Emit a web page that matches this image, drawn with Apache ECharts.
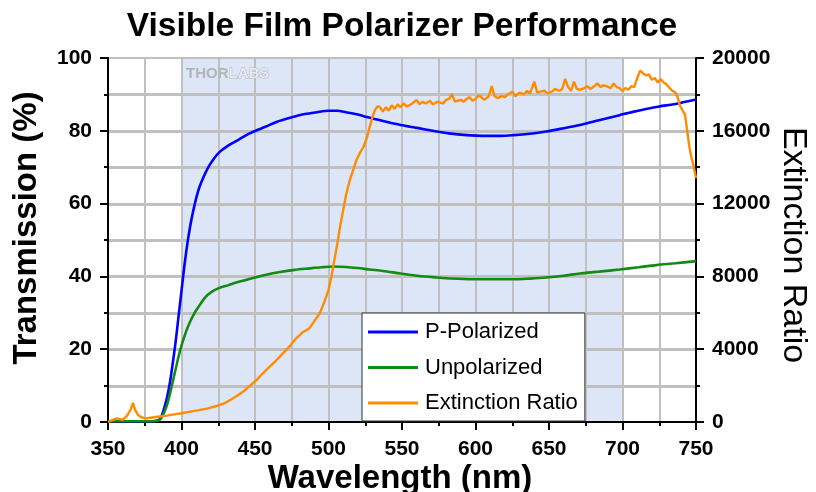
<!DOCTYPE html>
<html>
<head>
<meta charset="utf-8">
<title>Visible Film Polarizer Performance</title>
<script src="https://cdn.jsdelivr.net/npm/echarts@6/dist/echarts.min.js"></script>
<style>
  html, body { margin: 0; padding: 0; background: #fff; }
  #chart { width: 816px; height: 492px; }
</style>
</head>
<body>
<div id="chart"></div>
<script>
// P-polarized transmission (%)
const wavelengthP = [350, 365, 380, 384, 386, 388, 390, 392, 394, 396, 398, 400, 402, 404, 406, 408, 410, 412, 415, 418, 422, 426, 432, 439, 446, 452, 457, 465, 475, 484, 492, 500, 506, 512, 520, 526, 532, 540, 549, 560, 571, 582, 594, 605, 617, 626, 637, 648, 660, 671, 684, 698, 707, 716, 725, 735, 742, 750];
const pPolarized = [0.2, 0.2, 0.2, 0.4, 1.2, 3.5, 6.5, 10.5, 16, 22, 29, 36, 43, 49, 54, 58, 61.5, 64.3, 67.3, 69.8, 72.3, 74.2, 76, 77.6, 79.2, 80.3, 81.1, 82.5, 83.7, 84.6, 85.1, 85.5, 85.5, 85.1, 84.5, 83.8, 83.2, 82.4, 81.6, 80.8, 80, 79.3, 78.8, 78.6, 78.6, 78.8, 79.2, 79.8, 80.7, 81.6, 82.9, 84.3, 85.2, 86, 86.7, 87.3, 87.9, 88.6];

// Unpolarized transmission (%)
const wavelengthU = [350, 365, 380, 384, 386, 388, 390, 392, 394, 396, 398, 400, 402, 404, 406, 408, 410, 413, 416, 420, 425, 432, 439, 448, 457, 467, 477, 487, 495, 503, 512, 520, 528, 537, 549, 562, 571, 580, 592, 603, 615, 626, 637, 648, 660, 671, 684, 698, 711, 723, 736, 750];
const unpolarized = [0.2, 0.2, 0.2, 0.4, 1, 2.5, 4.5, 7.5, 11, 14.5, 18, 21, 23.5, 25.8, 27.7, 29.3, 30.7, 32.5, 34.2, 35.6, 36.7, 37.6, 38.5, 39.5, 40.4, 41.2, 41.8, 42.2, 42.5, 42.7, 42.6, 42.3, 41.9, 41.5, 40.8, 40.1, 39.8, 39.5, 39.3, 39.2, 39.2, 39.2, 39.4, 39.7, 40.2, 40.8, 41.3, 41.9, 42.5, 43.1, 43.6, 44.2];

// Extinction ratio (right axis)
const wavelengthER = [350, 353, 356, 360, 363, 365.5, 367, 368.5, 370.5, 373, 376, 380, 385, 390, 395, 400, 406, 412, 418, 424, 429, 433, 437, 442, 446, 451, 455, 460, 464, 469, 474, 478, 482, 487, 490, 494, 497, 500, 502, 504, 506, 508, 510, 512, 514.5, 517, 519, 521.5, 524, 526, 528, 530, 532, 533.5, 535, 537, 539, 541, 543, 545, 547, 549, 551, 553, 555, 557, 560, 562, 564, 566, 569, 571, 574, 576, 578, 580, 582, 584, 586, 588, 590, 592, 594, 596, 598, 600, 602, 604, 606, 609, 611, 613, 615, 618, 620, 622, 625, 627, 630, 633, 635, 637, 640, 642, 644, 647, 649, 652, 654, 657, 659, 661, 663, 665, 667, 669, 671, 674, 676, 678, 680, 683, 685, 687, 689, 692, 694, 696, 698, 700, 702, 704, 706, 708, 710, 712, 714, 716, 718, 720, 722, 724, 726, 728, 730, 732, 734, 736, 737.5, 739, 741, 742.5, 744, 745.5, 747, 748, 749, 750];
const extinctionRatio = [0, 100, 200, 120, 350, 700, 1050, 650, 380, 250, 200, 250, 300, 350, 420, 480, 570, 650, 750, 880, 1020, 1200, 1400, 1670, 1950, 2300, 2650, 3040, 3350, 3770, 4200, 4600, 4900, 5150, 5500, 5970, 6550, 7250, 8000, 8900, 9800, 10800, 11650, 12500, 13300, 13900, 14400, 14800, 15150, 15600, 16200, 16800, 17200, 17350, 17300, 17050, 17300, 17100, 17400, 17200, 17450, 17300, 17500, 17350, 17400, 17500, 17700, 17450, 17600, 17500, 17650, 17450, 17600, 17550, 17500, 17700, 17750, 18020, 17600, 17650, 17700, 17600, 17750, 17850, 17650, 17750, 17950, 17850, 17700, 17900, 18450, 17900, 17800, 17900, 17850, 18000, 18150, 17900, 18100, 18000, 18200, 18050, 18700, 18100, 18150, 18200, 18050, 18150, 18300, 18200, 18300, 18850, 18400, 18200, 18700, 18300, 18250, 18350, 18450, 18300, 18400, 18600, 18400, 18500, 18450, 18350, 18600, 18400, 18350, 18200, 18350, 18250, 18450, 18400, 18900, 19300, 19150, 19050, 19100, 18800, 18900, 18650, 18850, 18650, 18550, 18350, 18200, 18100, 17850, 17400, 17100, 16900, 16000, 15100, 14500, 14200, 13800, 13400];

// Visible band highlighted behind the curves
const visibleBand = [400, 700];
// Horizontal grid levels on the transmission axis (%)
const transmissionGrid = [10, 20, 30, 40, 50, 60, 70, 80, 90];

const FONT = "'Liberation Sans', Arial, sans-serif";
const GRID_COLOR = '#c0c0c0';
const pairs = (xs, ys) => xs.map((x, i) => [x, ys[i]]);

const gridLine = () => ({ show: true, lineStyle: { color: GRID_COLOR, width: 2, type: 'solid' } });
const axisLine = () => ({ show: true, lineStyle: { color: '#000', width: 2 } });
const majorTick = () => ({ show: true, inside: false, length: 8, lineStyle: { color: '#000', width: 2 } });
const minorTick = () => ({ show: true, splitNumber: 2, length: 4, lineStyle: { color: '#000', width: 2 } });
const tickLabel = (margin) => ({ show: true, margin, color: '#000', fontFamily: FONT, fontWeight: 'bold', fontSize: 21, formatter: v => String(v) });

const chart = echarts.init(document.getElementById('chart'), null, { renderer: 'canvas' });

chart.setOption({
  animation: false,
  backgroundColor: '#fff',
  grid: {
    left: 108, right: 120, top: 58, bottom: 70,
    show: true, borderColor: '#000', borderWidth: 2, backgroundColor: 'transparent'
  },
  graphic: [
    {
      type: 'text', x: 402, y: 27,
      style: { text: 'Visible Film Polarizer Performance', font: 'bold 33.5px ' + FONT, fill: '#000', textAlign: 'center', textVerticalAlign: 'middle' }
    },
    {
      type: 'text', x: 27, y: 228, rotation: Math.PI / 2,
      style: { text: 'Transmission (%)', font: 'bold 33px ' + FONT, fill: '#000', textAlign: 'center', textVerticalAlign: 'middle' }
    },
    {
      type: 'text', x: 793, y: 245, rotation: -Math.PI / 2,
      style: { text: 'Extinction Ratio', font: '34px ' + FONT, fill: '#000', textAlign: 'center', textVerticalAlign: 'middle' }
    },
    {
      type: 'text', x: 400, y: 479,
      style: { text: 'Wavelength (nm)', font: 'bold 33px ' + FONT, fill: '#000', textAlign: 'center', textVerticalAlign: 'middle' }
    },
    {
      type: 'text', x: 186, y: 74, z: 5,
      style: {
        text: '{a|THOR}{b|LABS}',
        textVerticalAlign: 'middle',
        rich: {
          a: { font: 'bold 15px ' + FONT, fill: '#b4b4b4' },
          b: { font: 'bold 15px ' + FONT, fill: '#e6ebf5', stroke: '#b4b4b4', lineWidth: 1 }
        }
      }
    }
  ],
  legend: {
    data: ['P-Polarized', 'Unpolarized', 'Extinction Ratio'],
    orient: 'vertical',
    left: 362, top: 313,
    padding: [8, 7, 7, 6],
    itemGap: 13.5,
    itemWidth: 50,
    itemHeight: 3,
    icon: 'rect',
    backgroundColor: '#fff',
    borderColor: '#333',
    borderWidth: 1,
    textStyle: { color: '#000', fontFamily: FONT, fontSize: 22, lineHeight: 14, padding: [0, 0, 0, 2] }
  },
  xAxis: {
    type: 'value', min: 350, max: 750, interval: 50,
    axisLine: axisLine(),
    axisTick: majorTick(),
    minorTick: minorTick(),
    splitLine: gridLine(),
    minorSplitLine: gridLine(),
    axisLabel: tickLabel(17)
  },
  yAxis: [
    {
      type: 'value', min: 0, max: 100, interval: 20, position: 'left',
      axisLine: axisLine(),
      axisTick: majorTick(),
      minorTick: minorTick(),
      splitLine: gridLine(),
      minorSplitLine: gridLine(),
      axisLabel: tickLabel(16)
    },
    {
      type: 'value', min: 0, max: 20000, interval: 4000, position: 'right',
      axisLine: axisLine(),
      axisTick: majorTick(),
      minorTick: minorTick(),
      splitLine: { show: false },
      axisLabel: tickLabel(16)
    }
  ],
  series: [
    {
      // shaded visible band
      name: 'band', type: 'line', data: [], z: -2, silent: true, yAxisIndex: 0,
      markArea: {
        silent: true,
        z: -2,
        itemStyle: { color: '#dce6f6' },
        data: [[{ xAxis: visibleBand[0] }, { xAxis: visibleBand[1] }]]
      }
    },
    {
      // horizontal grid rules across the plot, placed through the transmission axis
      name: 'rules', type: 'custom', yAxisIndex: 0, z: -1, silent: true,
      clip: false,
      data: transmissionGrid.map(v => [v]),
      encode: { y: 0 },
      renderItem: (params, api) => {
        const cs = params.coordSys;
        const y = Math.round(api.coord([350, api.value(0)])[1]) + 0.5;
        return {
          type: 'line',
          shape: { x1: cs.x, y1: y, x2: cs.x + cs.width, y2: y },
          style: { stroke: GRID_COLOR, lineWidth: 3 }
        };
      }
    },
    {
      name: 'P-Polarized', type: 'line', yAxisIndex: 0,
      data: pairs(wavelengthP, pPolarized),
      symbol: 'none', smooth: 0.3,
      lineStyle: { color: '#0000ff', width: 2.6 }, itemStyle: { color: '#0000ff' }
    },
    {
      name: 'Unpolarized', type: 'line', yAxisIndex: 0,
      data: pairs(wavelengthU, unpolarized),
      symbol: 'none', smooth: 0.3,
      lineStyle: { color: '#138a13', width: 2.6 }, itemStyle: { color: '#138a13' }
    },
    {
      name: 'Extinction Ratio', type: 'line', yAxisIndex: 1,
      data: pairs(wavelengthER, extinctionRatio),
      symbol: 'none',
      lineStyle: { color: '#ff8c00', width: 2.4 }, itemStyle: { color: '#ff8c00' }
    }
  ]
});
</script>
</body>
</html>
